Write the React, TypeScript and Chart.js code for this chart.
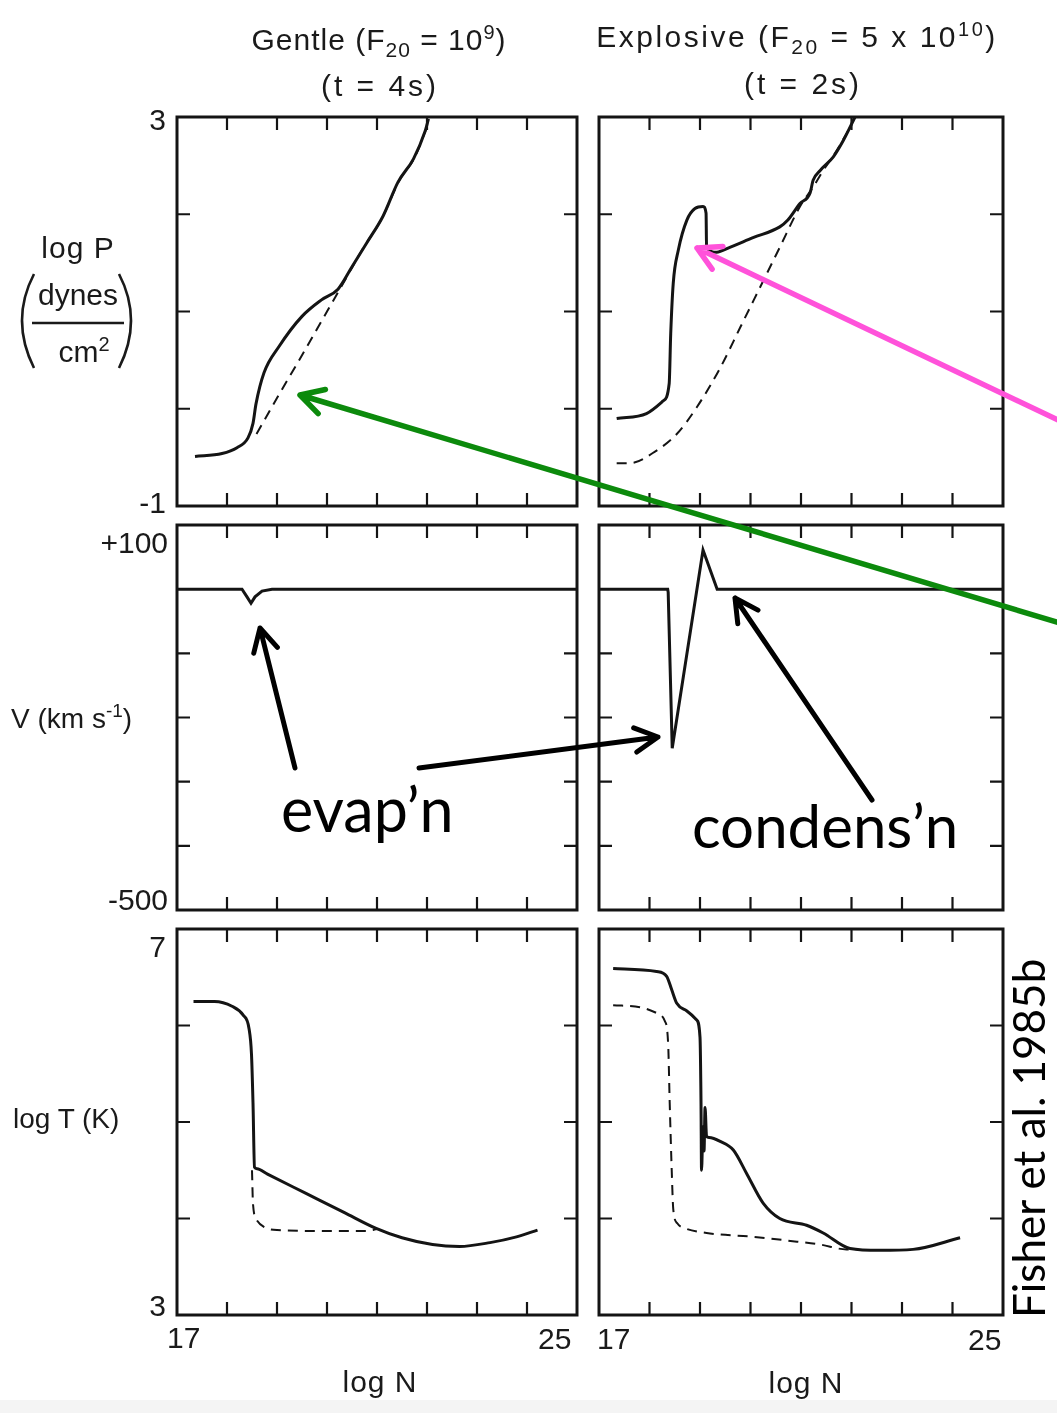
import React, { useEffect, useRef } from "react";
import { Chart, registerables } from "chart.js";
Chart.register(...registerables);

// ---------- axis ticks / labels ----------
const xTickValues = [18, 19, 20, 21, 22, 23, 24];
const pTickValues = [0, 1, 2];
const vTickValues = [-100, -200, -300, -400];
const tTickValues = [4, 5, 6];
const nAxisLabels = ["17", "25"];
const pAxisLabels = ["3", "-1"];
const vAxisLabels = ["+100", "-500"];
const tAxisLabels = ["7", "3"];

// ---------- Gentle: log P ----------
const pGentleN = [17.36, 17.9, 18.2, 18.42, 18.52, 18.58, 18.74, 19.04, 19.5, 19.89, 20.22, 20.5, 20.8, 21.12, 21.42, 21.73, 21.96, 22.03];
const pGentle = [-0.49, -0.46, -0.4, -0.3, -0.15, 0.05, 0.37, 0.64, 0.95, 1.12, 1.23, 1.46, 1.71, 1.98, 2.33, 2.57, 2.85, 2.98];
const pGentleInitN = [18.59, 19.0, 19.5, 20.0, 20.39, 20.7, 21.1, 21.45, 21.75, 22.0];
const pGentleInit = [-0.26, 0.11, 0.55, 1.0, 1.35, 1.63, 1.96, 2.35, 2.58, 2.9];

// ---------- Explosive: log P ----------
const pExplN = [17.35, 17.94, 18.27, 18.39, 18.42, 18.47, 18.57, 18.74, 18.9, 19.06, 19.12, 19.13, 19.33, 19.59, 20.05, 20.58, 20.74, 20.98, 21.18, 21.24, 21.38, 21.64, 21.84, 22.07];
const pExpl = [-0.1, -0.05, 0.08, 0.26, 0.77, 1.29, 1.63, 1.94, 2.06, 2.08, 2.01, 1.66, 1.61, 1.66, 1.76, 1.87, 1.94, 2.11, 2.22, 2.35, 2.45, 2.59, 2.76, 3.0];
const pExplInitN = [17.35, 17.61, 18.14, 18.54, 18.93, 19.4, 19.8, 20.19, 20.58, 20.98, 21.24, 21.44, 21.7, 22.0];
const pExplInit = [-0.56, -0.56, -0.43, -0.26, 0.01, 0.42, 0.84, 1.25, 1.66, 2.08, 2.28, 2.45, 2.65, 2.92];

// ---------- Velocity ----------
const vGentleN = [17, 18.3, 18.4, 18.48, 18.56, 18.7, 18.9, 25];
const vGentle = [0, 0, -12, -22, -12, -3, 0, 0];
const vExplN = [17, 18.36, 18.37, 18.45, 19.06, 19.34, 25];
const vExpl = [0, 0, -5, -248, 61, 0, 0];

// ---------- Gentle: log T ----------
const tGentleN = [17.33, 17.75, 18.1, 18.32, 18.44, 18.49, 18.52, 18.55, 18.6, 18.81, 19.58, 20.35, 20.97, 21.5, 22.11, 22.65, 23.26, 23.79, 24.21];
const tGentle = [6.25, 6.25, 6.2, 6.11, 5.97, 5.7, 5.2, 4.53, 4.515, 4.46, 4.26, 4.06, 3.9, 3.8, 3.73, 3.71, 3.75, 3.81, 3.88];
const tGentleInitN = [18.5, 18.52, 18.6, 18.75, 19.0, 20.0, 20.8, 21.0];
const tGentleInit = [4.5, 4.15, 3.98, 3.91, 3.88, 3.87, 3.87, 3.89];

// ---------- Explosive: log T ----------
const tExplN = [17.28, 18.14, 18.34, 18.44, 18.54, 18.74, 18.93, 19.0, 19.02, 19.03, 19.06, 19.08, 19.1, 19.13, 19.18, 19.4, 19.66, 19.92, 20.25, 20.58, 21.11, 21.44, 21.97, 22.56, 23.22, 24.15];
const tExpl = [6.59, 6.56, 6.51, 6.37, 6.23, 6.15, 6.06, 5.88, 5.2, 4.5, 4.95, 4.7, 5.15, 4.85, 4.84, 4.8, 4.71, 4.47, 4.16, 4.0, 3.93, 3.85, 3.69, 3.67, 3.68, 3.8];
const tExplInitN = [17.28, 17.81, 18.14, 18.3, 18.37, 18.4, 18.44, 18.47, 18.55, 18.7, 19.13, 20.05, 20.92, 21.38, 21.9, 22.1];
const tExplInit = [6.21, 6.19, 6.13, 6.05, 5.8, 5.2, 4.5, 4.1, 3.95, 3.9, 3.85, 3.81, 3.76, 3.73, 3.68, 3.68];

const zip = (xs: number[], ys: number[]) => xs.map((x, i) => ({ x, y: ys[i] }));

const PAD = 5;
const INK = "#141414";

const framePlugin = {
  id: "frameTicks",
  afterDatasetsDraw(chart: any, _args: any, opts: any) {
    const { ctx, chartArea, scales } = chart;
    const { left, right, top, bottom } = chartArea;
    const L = 13;
    ctx.save();
    ctx.strokeStyle = INK;
    ctx.lineWidth = 2.2;
    ctx.beginPath();
    for (const v of opts.xTicks) {
      const px = scales.x.getPixelForValue(v);
      ctx.moveTo(px, top);
      ctx.lineTo(px, top + L);
      ctx.moveTo(px, bottom);
      ctx.lineTo(px, bottom - L);
    }
    for (const v of opts.yTicks) {
      const py = scales.y.getPixelForValue(v);
      ctx.moveTo(left, py);
      ctx.lineTo(left + L, py);
      ctx.moveTo(right, py);
      ctx.lineTo(right - L, py);
    }
    ctx.stroke();
    ctx.lineWidth = 3;
    ctx.strokeRect(left, top, right - left, bottom - top);
    ctx.restore();
  },
};

const solid = (data: any[], smooth = true) => ({
  data,
  borderColor: INK,
  borderWidth: 3,
  pointRadius: 0,
  fill: false,
  cubicInterpolationMode: smooth ? "monotone" : "default",
  tension: 0,
});
const dashed = (data: any[]) => ({
  data,
  borderColor: INK,
  borderWidth: 2,
  borderDash: [10, 7],
  pointRadius: 0,
  fill: false,
  cubicInterpolationMode: "monotone",
  tension: 0,
});

type Rect = { l: number; t: number; r: number; b: number };

function Panel({ rect, yMin, yMax, yTicks, datasets }: { rect: Rect; yMin: number; yMax: number; yTicks: number[]; datasets: any[] }) {
  const ref = useRef<HTMLCanvasElement>(null);
  const w = rect.r - rect.l + 2 * PAD;
  const h = rect.b - rect.t + 2 * PAD;
  useEffect(() => {
    if (!ref.current) return;
    const chart = new Chart(ref.current, {
      type: "line",
      data: { datasets },
      options: {
        animation: false,
        responsive: false,
        maintainAspectRatio: false,
        devicePixelRatio: 1,
        layout: { padding: PAD },
        scales: {
          x: { type: "linear", min: 17, max: 25, display: false },
          y: { type: "linear", min: yMin, max: yMax, display: false },
        },
        plugins: {
          legend: { display: false },
          tooltip: { enabled: false },
          frameTicks: { xTicks: xTickValues, yTicks },
        } as any,
      },
      plugins: [framePlugin as any],
    } as any);
    return () => chart.destroy();
  }, []);
  return (
    <canvas
      ref={ref}
      width={w}
      height={h}
      style={{ position: "absolute", left: rect.l - PAD, top: rect.t - PAD, width: w, height: h }}
    />
  );
}

const LC = { l: 177, r: 577 };
const RC = { l: 599, r: 1003 };
const R1 = { t: 117, b: 506 };
const R2 = { t: 525, b: 910 };
const R3 = { t: 929, b: 1315 };

const OLD = "'Liberation Sans', Arial, sans-serif";
const NEW = "Lato, 'Open Sans', sans-serif";

function arrow(x1: number, y1: number, x2: number, y2: number, len: number, ang: number) {
  const a = Math.atan2(y1 - y2, x1 - x2);
  const r = (ang * Math.PI) / 180;
  const p1 = [x2 + len * Math.cos(a + r), y2 + len * Math.sin(a + r)];
  const p2 = [x2 + len * Math.cos(a - r), y2 + len * Math.sin(a - r)];
  return `M ${x1} ${y1} L ${x2} ${y2} M ${p1[0]} ${p1[1]} L ${x2} ${y2} L ${p2[0]} ${p2[1]}`;
}

export default function App() {
  return (
    <div style={{ position: "absolute", left: 0, top: 0, width: 1057, height: 1413, background: "#fff", overflow: "hidden" }}>
      <div style={{ position: "absolute", left: 0, top: 1400, width: 1057, height: 13, background: "#f4f4f4" }} />
      <Panel rect={{ ...LC, ...R1 }} yMin={-1} yMax={3} yTicks={pTickValues} datasets={[solid(zip(pGentleN, pGentle)), dashed(zip(pGentleInitN, pGentleInit))]} />
      <Panel rect={{ ...RC, ...R1 }} yMin={-1} yMax={3} yTicks={pTickValues} datasets={[solid(zip(pExplN, pExpl)), dashed(zip(pExplInitN, pExplInit))]} />
      <Panel rect={{ ...LC, ...R2 }} yMin={-500} yMax={100} yTicks={vTickValues} datasets={[solid(zip(vGentleN, vGentle), false)]} />
      <Panel rect={{ ...RC, ...R2 }} yMin={-500} yMax={100} yTicks={vTickValues} datasets={[solid(zip(vExplN, vExpl), false)]} />
      <Panel rect={{ ...LC, ...R3 }} yMin={3} yMax={7} yTicks={tTickValues} datasets={[solid(zip(tGentleN, tGentle)), dashed(zip(tGentleInitN, tGentleInit))]} />
      <Panel rect={{ ...RC, ...R3 }} yMin={3} yMax={7} yTicks={tTickValues} datasets={[solid(zip(tExplN, tExpl)), dashed(zip(tExplInitN, tExplInit))]} />

      <svg width={1057} height={1413} style={{ position: "absolute", left: 0, top: 0 }}>
        <g fill="#1a1a1a" fontFamily={OLD} fontSize={30}>
          <text x={379} y={50} textAnchor="middle" letterSpacing={1}>
            Gentle (F<tspan dy={7} fontSize={21}>20</tspan>
            <tspan dy={-7}> = 10</tspan>
            <tspan dy={-11} fontSize={20}>9</tspan>
            <tspan dy={11}>)</tspan>
          </text>
          <text x={380} y={96} textAnchor="middle" letterSpacing={3}>(t = 4s)</text>
          <text x={797} y={47} textAnchor="middle" letterSpacing={2.5}>
            Explosive (F<tspan dy={7} fontSize={21}>20</tspan>
            <tspan dy={-7}> = 5 x 10</tspan>
            <tspan dy={-11} fontSize={20}>10</tspan>
            <tspan dy={11}>)</tspan>
          </text>
          <text x={803} y={94} textAnchor="middle" letterSpacing={3}>(t = 2s)</text>

          <text x={166} y={130} textAnchor="end">{pAxisLabels[0]}</text>
          <text x={166} y={513} textAnchor="end">{pAxisLabels[1]}</text>
          <text x={78} y={258} textAnchor="middle" letterSpacing={1}>log P</text>
          <text x={78} y={305} textAnchor="middle">dynes</text>
          <text x={84} y={362} textAnchor="middle">
            cm<tspan dy={-11} fontSize={20}>2</tspan>
          </text>

          <text x={168} y={553} textAnchor="end">{vAxisLabels[0]}</text>
          <text x={168} y={910} textAnchor="end">{vAxisLabels[1]}</text>
          <text x={11} y={728} fontSize={28}>
            V (km s<tspan dy={-11} fontSize={19}>-1</tspan>
            <tspan dy={11}>)</tspan>
          </text>

          <text x={166} y={957} textAnchor="end">{tAxisLabels[0]}</text>
          <text x={166} y={1316} textAnchor="end">{tAxisLabels[1]}</text>
          <text x={13} y={1128} fontSize={28}>log T (K)</text>

          <text x={167} y={1348}>{nAxisLabels[0]}</text>
          <text x={538} y={1349}>{nAxisLabels[1]}</text>
          <text x={597} y={1349}>{nAxisLabels[0]}</text>
          <text x={968} y={1350}>{nAxisLabels[1]}</text>
          <text x={380} y={1392} textAnchor="middle" letterSpacing={1}>log N</text>
          <text x={806} y={1393} textAnchor="middle" letterSpacing={1}>log N</text>
        </g>
        <g stroke="#1a1a1a" strokeWidth={2.6} fill="none">
          <line x1={32} y1={323} x2={124} y2={323} />
          <path d="M 34 274 Q 10 320 34 368" />
          <path d="M 119 274 Q 143 320 119 368" />
        </g>

        <g fill="#000" fontFamily={NEW}>
          <text x={281} y={832} fontSize={61}>evap’n</text>
          <text x={692} y={848} fontSize={60}>condens’n</text>
          <text transform="translate(1045,1318) rotate(-90)" fontSize={44}>Fisher et al. 1985b</text>
        </g>

        <g fill="none" strokeLinecap="round" strokeLinejoin="round">
          <path d={arrow(295, 768, 260, 628, 26, 28)} stroke="#000" strokeWidth={5} />
          <path d={arrow(419, 768, 658, 737, 26, 28)} stroke="#000" strokeWidth={5} />
          <path d={arrow(872, 800, 735, 598, 26, 28)} stroke="#000" strokeWidth={5} />
          <path d={arrow(1060, 421, 697, 248, 26, 29)} stroke="#ff52da" strokeWidth={5.5} />
          <path d={arrow(1060, 623, 300, 395, 26, 29)} stroke="#0c8a0c" strokeWidth={5.5} />
        </g>
      </svg>
    </div>
  );
}
